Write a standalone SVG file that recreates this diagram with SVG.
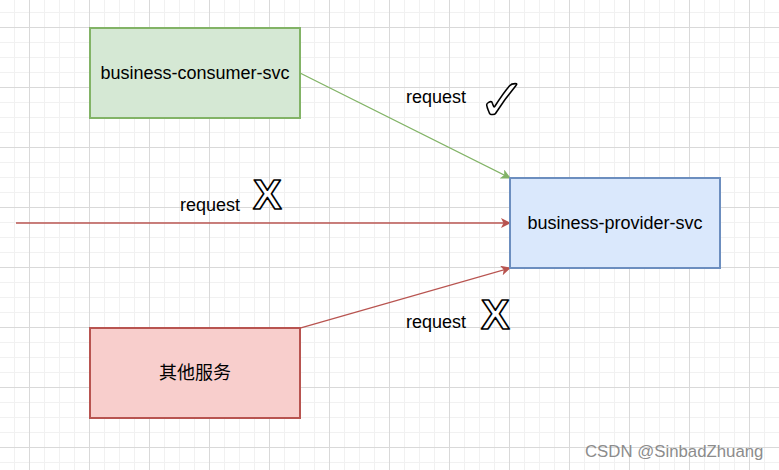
<svg xmlns="http://www.w3.org/2000/svg" width="779" height="470" viewBox="0 0 779 470">
  <defs>
    <pattern id="grid" patternUnits="userSpaceOnUse" x="29" y="27" width="60" height="60">
      <rect x="0" y="0" width="60" height="60" fill="#ffffff"/>
      <g fill="#f1f1f1">
        <rect x="15" y="0" width="1" height="60"/>
        <rect x="30" y="0" width="1" height="60"/>
        <rect x="45" y="0" width="1" height="60"/>
        <rect x="0" y="15" width="60" height="1"/>
        <rect x="0" y="30" width="60" height="1"/>
        <rect x="0" y="45" width="60" height="1"/>
      </g>
      <g fill="#d9d9d9">
        <rect x="0" y="0" width="1" height="60"/>
        <rect x="0" y="0" width="60" height="1"/>
      </g>
    </pattern>
    <marker id="arrGreen" viewBox="0 0 10 10" refX="9" refY="5" markerWidth="10" markerHeight="10" markerUnits="userSpaceOnUse" orient="auto">
      <path d="M0,0 L10,5 L0,10 L2.5,5 Z" fill="#82b366"/>
    </marker>
    <marker id="arrRed" viewBox="0 0 10 10" refX="9" refY="5" markerWidth="10" markerHeight="10" markerUnits="userSpaceOnUse" orient="auto">
      <path d="M0,0 L10,5 L0,10 L2.5,5 Z" fill="#b85450"/>
    </marker>
  </defs>
  <style>
    .lbl { font-family: "Liberation Sans", Arial, "Noto Sans CJK SC", sans-serif; font-size: 18px; fill: #000000; }
    .mark { font-family: "Liberation Sans", "DejaVu Sans", sans-serif; font-weight: bold; fill: #ffffff; stroke: #000000; stroke-width: 1.6px; stroke-linejoin: round; }
    .green { fill: #d5e8d4; stroke: #82b366; stroke-width: 2; }
    .blue { fill: #dae8fc; stroke: #6c8ebf; stroke-width: 2; }
    .red { fill: #f8cecc; stroke: #b85450; stroke-width: 2; }
    .edge { fill: none; stroke-width: 1.3; }
  </style>
  <rect x="0" y="0" width="779" height="470" fill="url(#grid)"/>

  <g id="connectors">
    <line class="edge" x1="300" y1="73" x2="510" y2="178" stroke="#82b366" marker-end="url(#arrGreen)"/>
    <line class="edge" x1="16" y1="223" x2="510" y2="223" stroke="#b85450" marker-end="url(#arrRed)"/>
    <line class="edge" x1="300" y1="328" x2="510" y2="268" stroke="#b85450" marker-end="url(#arrRed)"/>
  </g>

  <g id="node-consumer">
    <rect class="green" x="90" y="28" width="210" height="90"/>
    <text class="lbl" x="195" y="79" text-anchor="middle">business-consumer-svc</text>
  </g>
  <g id="node-provider">
    <rect class="blue" x="510" y="178" width="210" height="90"/>
    <text class="lbl" x="615" y="229" text-anchor="middle">business-provider-svc</text>
  </g>
  <g id="node-other">
    <rect class="red" x="90" y="328" width="210" height="90"/>
    <text class="lbl" x="195" y="379" text-anchor="middle">其他服务</text>
  </g>

  <g id="label-1">
    <text class="lbl" x="406" y="103">request</text>
    <text class="mark" x="478" y="120" font-size="58" font-family="DejaVu Sans, sans-serif" font-weight="normal" stroke-width="1.4">✓</text>
  </g>
  <g id="label-2">
    <text class="lbl" x="180" y="211">request</text>
    <text class="mark" x="253" y="209" font-size="43">X</text>
  </g>
  <g id="label-3">
    <text class="lbl" x="406" y="328">request</text>
    <text class="mark" x="481" y="329" font-size="43">X</text>
  </g>

  <text x="585" y="457" font-family="Liberation Sans, Arial, sans-serif" font-size="16.8" fill="#8c8c8c">CSDN @SinbadZhuang</text>
</svg>
